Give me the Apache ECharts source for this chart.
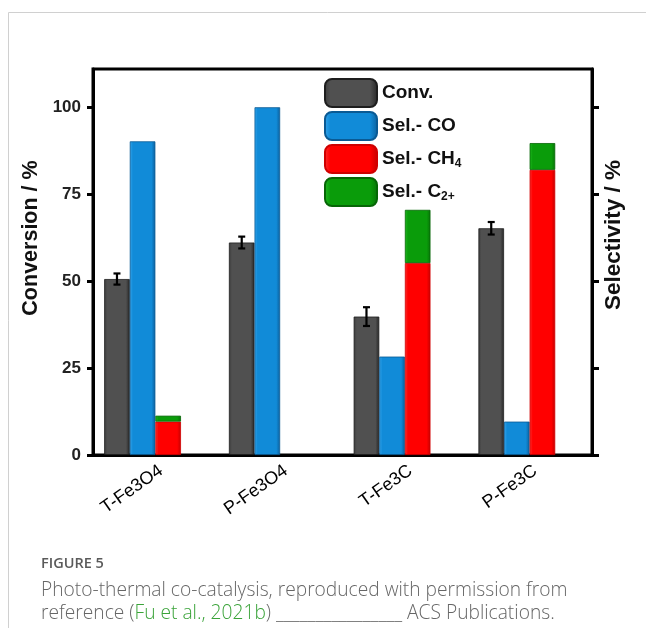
<!DOCTYPE html>
<html>
<head>
<meta charset="utf-8">
<script src="https://cdn.jsdelivr.net/npm/echarts@6/dist/echarts.min.js"></script>
<style>
html,body{margin:0;padding:0;background:#fff;}
#chart{width:646px;height:628px;}
</style>
</head>
<body>
<div id="chart"></div>
<script>
// ---- data ----
var categories = ['T-Fe3O4', 'P-Fe3O4', 'T-Fe3C', 'P-Fe3C'];
var conversion = [50.6, 61.1, 39.8, 65.2];
var conversionErr = [1.6, 1.7, 2.7, 1.8];
var selCO = [90.2, 100, 28.3, 9.6];
var selCH4 = [9.6, null, 55.2, 82.0];
var selC2 = [1.7, null, 15.3, 7.7];
var yTicks = [0, 25, 50, 75, 100];
var seriesNames = ['Conv.', 'Sel.- CO', 'Sel.- CH4', 'Sel.- C2+'];

// ---- style ----
var FONT = '"Liberation Sans", Arial, sans-serif';
var CAP_FONT = '"Open Sans", Lato, sans-serif';
var BW = 25.6; // bar width
var YMAX = 111;

function bevel(edgeL, face, edgeR) {
  return new echarts.graphic.LinearGradient(0, 0, 1, 0, [
    { offset: 0, color: edgeL },
    { offset: 0.12, color: face },
    { offset: 0.85, color: face },
    { offset: 1, color: edgeR }
  ]);
}
var cGray = bevel('#3c3c3c', '#505050', '#262626');
var cBlue = bevel('#35a6ec', '#118bd8', '#0b5f9c');
var cRed = bevel('#ff3030', '#ff0000', '#c40000');
var cGreen = bevel('#1fbb1f', '#0a9c0a', '#077407');

var chart = echarts.init(document.getElementById('chart'), null, { renderer: 'canvas' });

var errData = conversion.map(function (v, i) { return [i, v, conversionErr[i]]; });

var option = {
  animation: false,
  backgroundColor: '#fff',
  textStyle: { fontFamily: FONT },
  grid: {
    left: 93, right: 54, top: 69, bottom: 173, containLabel: false,
    show: true, borderColor: '#000', borderWidth: 3, backgroundColor: 'transparent'
  },
  legend: {
    data: seriesNames,
    orient: 'vertical',
    left: 319,
    top: 73,
    itemWidth: 52,
    itemHeight: 28,
    itemGap: 3,
    selectedMode: false,
    textStyle: {
      fontFamily: FONT,
      fontSize: 19,
      fontWeight: 'bold',
      color: '#111',
      rich: {
        b: { fontFamily: FONT, fontSize: 19, fontWeight: 'bold', color: '#111' },
        s: { fontFamily: FONT, fontSize: 12, fontWeight: 'bold', color: '#111', padding: [10, 0, 0, 0] }
      }
    },
    formatter: function (name) {
      if (name === 'Sel.- CH4') return '{b|Sel.- CH}{s|4}';
      if (name === 'Sel.- C2+') return '{b|Sel.- C}{s|2+}';
      return '{b|' + name + '}';
    }
  },
  xAxis: [
    {
      type: 'category',
      data: categories,
      position: 'bottom',
      axisLine: { show: true, onZero: false, lineStyle: { color: '#000', width: 3 } },
      axisTick: { show: false },
      axisLabel: {
        rotate: 35,
        margin: 18,
        padding: [0, -7, 0, 0],
        fontFamily: FONT,
        fontSize: 18,
        color: '#000'
      },
      splitLine: { show: false }
    }
  ],
  yAxis: [
    {
      type: 'value',
      min: 0,
      max: YMAX,
      interval: 25,
      position: 'left',
      name: 'Conversion / %',
      nameLocation: 'middle',
      nameGap: 37,
      nameTextStyle: { fontFamily: FONT, fontSize: 21.5, fontWeight: 'bold', color: '#111', padding: [0, 0, 0, 48] },
      axisLine: { show: true, onZero: false, lineStyle: { color: '#000', width: 3 } },
      axisTick: { show: true, length: 6, lineStyle: { color: '#000', width: 3 }, customValues: yTicks },
      axisLabel: { fontFamily: FONT, fontSize: 17, fontWeight: 'bold', color: '#222', margin: 12, customValues: yTicks },
      splitLine: { show: false }
    },
    {
      type: 'value',
      min: 0,
      max: YMAX,
      interval: 25,
      position: 'right',
      name: 'Selectivity / %',
      nameLocation: 'middle',
      nameGap: 10,
      nameRotate: 90,
      nameTextStyle: { fontFamily: FONT, fontSize: 22.5, fontWeight: 'bold', color: '#111', padding: [0, 0, 0, 54] },
      axisLine: { show: true, onZero: false, lineStyle: { color: '#000', width: 3 } },
      axisTick: { show: true, length: 7, lineStyle: { color: '#000', width: 3 }, customValues: yTicks },
      axisLabel: { show: false },
      splitLine: { show: false }
    }
  ],
  series: [
    {
      name: 'Conv.', type: 'bar', xAxisIndex: 0, yAxisIndex: 0,
      data: conversion, barWidth: BW, barGap: '0%',
      itemStyle: { color: cGray, borderColor: '#1e1e1e', borderWidth: 0.8 }
    },
    {
      name: 'Sel.- CO', type: 'bar', xAxisIndex: 0, yAxisIndex: 1,
      data: selCO, barWidth: BW, barGap: '0%',
      itemStyle: { color: cBlue, borderColor: '#0a5a94', borderWidth: 0.8 }
    },
    {
      name: 'Sel.- CH4', type: 'bar', xAxisIndex: 0, yAxisIndex: 1, stack: 'sel',
      data: selCH4, barWidth: BW, barGap: '0%',
      itemStyle: { color: cRed, borderColor: '#d00000', borderWidth: 0.8 }
    },
    {
      name: 'Sel.- C2+', type: 'bar', xAxisIndex: 0, yAxisIndex: 1, stack: 'sel',
      data: selC2, barWidth: BW, barGap: '0%',
      itemStyle: { color: cGreen, borderColor: '#066606', borderWidth: 0.8 }
    },
    {
      // empty spacer slot (keeps the 3 visible columns left of the category centre)
      name: 'spacer', type: 'bar', xAxisIndex: 0, yAxisIndex: 1,
      data: ['-', '-', '-', '-'], barWidth: BW, barGap: '0%',
      itemStyle: { color: 'transparent' }, silent: true
    },
    {
      name: 'err', type: 'custom', xAxisIndex: 0, yAxisIndex: 0, z: 10,
      data: errData,
      renderItem: function (params, api) {
        var idx = api.value(0), v = api.value(1), e = api.value(2);
        var c = api.coord([idx, v]);
        var x = c[0] - 1.5 * BW;
        var hi = api.coord([idx, v + e])[1];
        var lo = api.coord([idx, v - e])[1];
        var cap = 3.5;
        var st = { stroke: '#000', lineWidth: 2.2 };
        return {
          type: 'group',
          children: [
            { type: 'line', shape: { x1: x, y1: hi, x2: x, y2: lo }, style: st },
            { type: 'line', shape: { x1: x - cap, y1: hi, x2: x + cap, y2: hi }, style: st },
            { type: 'line', shape: { x1: x - cap, y1: lo, x2: x + cap, y2: lo }, style: st }
          ]
        };
      }
    }
  ],
  graphic: [
    { type: 'line', shape: { x1: 8.5, y1: 12.5, x2: 646, y2: 12.5 }, style: { stroke: '#d0d0d0', lineWidth: 1 } },
    { type: 'line', shape: { x1: 8.5, y1: 12.5, x2: 8.5, y2: 628 }, style: { stroke: '#d0d0d0', lineWidth: 1 } },
    {
      type: 'text', left: 41, top: 556,
      style: { text: 'FIGURE 5', fontFamily: CAP_FONT, fontSize: 14.5, fontWeight: 600, fill: '#5a5a5a' }
    },
    {
      type: 'text', left: 41, top: 581,
      style: {
        text: 'Photo-thermal co-catalysis, reproduced with permission from',
        fontFamily: CAP_FONT, fontSize: 19.2, fontWeight: 300, fill: '#666'
      }
    },
    {
      type: 'text', left: 41, top: 604,
      style: {
        text: '{t|reference (}{g|Fu et al., 2021b}{t|) ________________ ACS Publications.}',
        rich: {
          t: { fontFamily: CAP_FONT, fontSize: 19.2, fontWeight: 300, fill: '#666', color: '#666' },
          g: { fontFamily: CAP_FONT, fontSize: 19.2, fontWeight: 300, fill: '#3aa339', color: '#3aa339' }
        }
      }
    }
  ]
};

chart.setOption(option);
</script>
</body>
</html>
